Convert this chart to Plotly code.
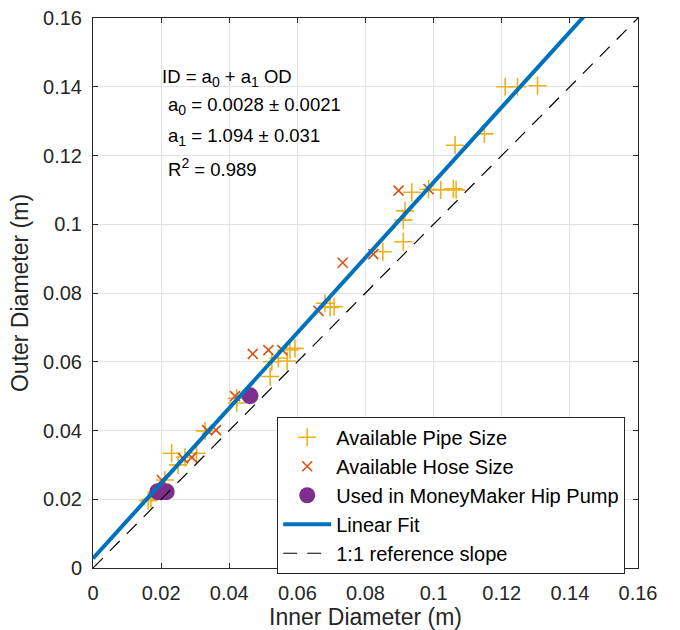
import plotly.graph_objects as go

pipe_x = [0.0162, 0.0170, 0.0211, 0.0231, 0.0250, 0.0270, 0.0304, 0.0329, 0.0422, 0.0422,
          0.0520, 0.0525, 0.0544, 0.0570, 0.0578, 0.0593, 0.0681, 0.0696, 0.0708, 0.0851,
          0.0911, 0.0911, 0.0916, 0.0936, 0.0985, 0.1021, 0.1058, 0.1066, 0.1063, 0.1149,
          0.1210, 0.1246, 0.1305]
pipe_y = [0.0196, 0.0200, 0.0256, 0.0334, 0.0300, 0.0322, 0.0334, 0.0399, 0.0494, 0.0480,
          0.0557, 0.0600, 0.0610, 0.0602, 0.0634, 0.0639, 0.0770, 0.0758, 0.0760, 0.0920,
          0.0949, 0.1012, 0.1039, 0.1093, 0.1102, 0.1100, 0.1103, 0.1100, 0.1230, 0.1263,
          0.1400, 0.1400, 0.1403]

hose_x = [0.0202, 0.0265, 0.0290, 0.0335, 0.0361, 0.0417, 0.0469, 0.0515, 0.0556, 0.0662,
          0.0733, 0.0823, 0.0897, 0.0985]
hose_y = [0.0256, 0.0319, 0.0322, 0.0401, 0.0401, 0.0500, 0.0623, 0.0634, 0.0634, 0.0748,
          0.0888, 0.0913, 0.1098, 0.1102]

used_x = [0.0190, 0.0200, 0.0215, 0.0461]
used_y = [0.0222, 0.0222, 0.0222, 0.0501]

a0 = 0.0028
a1 = 1.094
fit_x = [0.0, 0.16]
fit_y = [a0 + a1 * v for v in fit_x]
ref_x = [0.0, 0.16]
ref_y = [0.0, 0.16]

ticks = [0, 0.02, 0.04, 0.06, 0.08, 0.1, 0.12, 0.14, 0.16]
tick_text = ["0", "0.02", "0.04", "0.06", "0.08", "0.1", "0.12", "0.14", "0.16"]

FONT = "Liberation Sans, Arial, Helvetica, sans-serif"

fig = go.Figure()
fig.add_trace(go.Scatter(x=pipe_x, y=pipe_y, mode="markers", name="Available Pipe Size",
                         marker=dict(symbol="cross-thin-open", size=13, color="#EDB120",
                                     line=dict(color="#EDB120", width=1.6))))
fig.add_trace(go.Scatter(x=hose_x, y=hose_y, mode="markers", name="Available Hose Size",
                         marker=dict(symbol="x-thin-open", size=10, color="#D95319",
                                     line=dict(color="#D95319", width=1.6))))
fig.add_trace(go.Scatter(x=used_x, y=used_y, mode="markers", name="Used in MoneyMaker Hip Pump",
                         marker=dict(symbol="circle", size=17, color="#7E2F8E")))
fig.add_trace(go.Scatter(x=fit_x, y=fit_y, mode="lines", name="Linear Fit",
                         line=dict(color="#0072BD", width=4)))
fig.add_trace(go.Scatter(x=ref_x, y=ref_y, mode="lines", name="1:1 reference slope",
                         line=dict(color="black", width=1.2, dash="14px,10px")))

axis_common = dict(range=[0, 0.16], tickvals=ticks, ticktext=tick_text,
                   showgrid=True, gridcolor="#E3E3E3", gridwidth=1,
                   showline=True, linecolor="#262626", linewidth=1, mirror="ticks",
                   ticks="inside", ticklen=5, tickcolor="#262626",
                   tickfont=dict(size=20, color="#262626", family=FONT),
                   zeroline=False, fixedrange=True, automargin=False)

fig.update_xaxes(**axis_common, ticklabelstandoff=7,
                 title=dict(text="Inner Diameter (m)", standoff=4,
                            font=dict(size=23, color="#262626", family=FONT)))
fig.update_yaxes(**axis_common, ticklabelstandoff=6,
                 title=dict(text="Outer Diameter (m)", standoff=8,
                            font=dict(size=23, color="#262626", family=FONT)))

ann_font = dict(size=18.5, color="black", family=FONT)
sub = lambda s: "<sub><span style='font-size:14px'>%s</span></sub>" % s
annotations = [
    dict(x=0.0197, y=0.1425, text="ID = a" + sub("0") + " + a" + sub("1") + " OD"),
    dict(x=0.0215, y=0.1344, text="a" + sub("0") + " = 0.0028 ± 0.0021"),
    dict(x=0.0215, y=0.1253, text="a" + sub("1") + " = 1.094 ± 0.031"),
    dict(x=0.0215, y=0.1166, text="R<sup><span style='font-size:14px'>2</span></sup> = 0.989"),
]
for a in annotations:
    a.update(xref="x", yref="y", xanchor="left", yanchor="middle", showarrow=False, font=ann_font)

fig.update_layout(
    width=680, height=630,
    margin=dict(l=93, r=42, t=18, b=62),
    paper_bgcolor="white", plot_bgcolor="white",
    font=dict(family=FONT, color="#262626"),
    showlegend=True,
    legend=dict(x=0.338, y=0.275, xanchor="left", yanchor="top",
                bgcolor="white", bordercolor="#262626", borderwidth=1,
                font=dict(size=20, color="black", family=FONT),
                tracegroupgap=0, itemwidth=48),
    annotations=annotations,
)

fig.write_html("out.html", config={"displayModeBar": False},
               post_script="document.body.style.margin='0px';")
